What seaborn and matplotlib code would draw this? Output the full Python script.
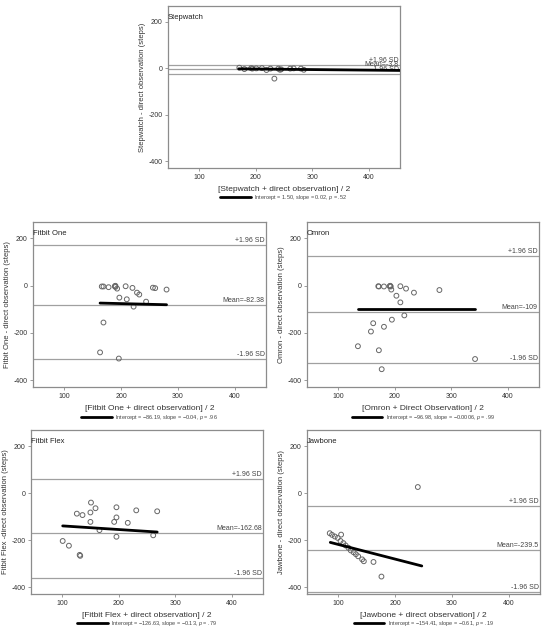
import matplotlib
matplotlib.use("Agg")
import matplotlib.pyplot as plt
import numpy as np
import pandas as pd
import seaborn as sns

########################################
# Values

devices = ["Stepwatch", "Fitbit One", "Omron", "Fitbit Flex", "Jawbone"]

stepwatch_x = [171, 180, 192, 194, 201, 211, 219, 226, 240, 243, 245, 261, 267, 280, 285, 233]
stepwatch_y = [3, -3, 1, -1, 0, 1, -7, -1, -1, -6, -4, -1, 0, -1, -6, -44]

fitbit_one_x = [166, 169, 178, 189, 190, 190, 193, 197, 208, 210, 220, 228, 232, 222, 244,
                256, 260, 280, 169, 163, 196]
fitbit_one_y = [-4, -4, -7, -3, -1, -6, -13, -51, -3, -58, -10, -30, -38, -89, -68,
                -9, -11, -17, -156, -282, -308]

omron_x = [171, 172, 181, 191, 192, 193, 194, 210, 220, 234, 203, 210, 279, 195, 217,
           162, 181, 158, 135, 172, 177, 342]
omron_y = [-3, -4, -4, -3, -1, -4, -17, -3, -13, -30, -43, -71, -19, -144, -126,
           -159, -174, -194, -256, -273, -353, -310]

fitbit_flex_x = [151, 159, 126, 136, 150, 150, 166, 196, 196, 192, 216, 231, 268, 196, 261,
                 101, 112, 131, 132]
fitbit_flex_y = [-40, -64, -87, -93, -82, -122, -157, -60, -103, -122, -126, -73, -77, -185, -179,
                 -203, -223, -262, -266]

jawbone_x = [240, 85, 89, 105, 94, 99, 104, 109, 113, 118, 122, 127, 131, 135, 142, 145, 162, 176]
jawbone_y = [26, -170, -177, -176, -184, -190, -203, -212, -222, -232, -243, -251, -259, -268,
             -281, -289, -292, -354]

# limits of agreement: upper, mean, lower
upper_sd = [14, 171, 124, 59, -53]
mean_diff = [-4, -82, -110, -167, -240]
lower_sd = [-23, -308, -327, -359, -418]
mean_labels = ["Mean=-3.8", "Mean=-82.38", "Mean=-109", "Mean=-162.68", "Mean=-239.5"]

# fitted regression line end points (x0, x1, y0, y1)
fit_x = [[170, 460], [163, 280], [135, 342], [101, 268], [86, 247]]
fit_y = [[-2, -9], [-74, -81], [-99, -99], [-139, -165], [-209, -309]]

x_labels = ["[Stepwatch + direct observation] / 2",
            "[Fitbit One + direct observation] / 2",
            "[Omron + Direct Observation] / 2",
            "[Fitbit Flex + direct observation] / 2",
            "[Jawbone + direct observation] / 2"]
y_labels = ["Stepwatch - direct observation (steps)",
            "Fitbit One - direct observation (steps)",
            "Omron - direct observation (steps)",
            "Fitbit Flex -direct observation (steps)",
            "Jawbone - direct observation (steps)"]
legend_labels = ["Intercept = 1.50, slope = 0.02, $p$ = .52",
                 "Intercept = \u221286.19, slope = \u22120.04, $p$ = .96",
                 "Intercept = \u221296.98, slope = \u22120.0006, $p$ = .99",
                 "Intercept = \u2212126.63, slope = \u22120.13, $p$ = .79",
                 "Intercept = \u2212154.41, slope = \u22120.61, $p$ = .19"]

x_ticks = [100, 200, 300, 400]
y_ticks = [200, 0, -200, -400]

points = [(stepwatch_x, stepwatch_y), (fitbit_one_x, fitbit_one_y), (omron_x, omron_y),
          (fitbit_flex_x, fitbit_flex_y), (jawbone_x, jawbone_y)]

########################################
# Figure layout (panel rectangles in figure fractions)

sns.set_style("white")
plt.rcParams["font.family"] = ["Liberation Sans", "DejaVu Sans"]
plt.rcParams["axes.unicode_minus"] = False
plt.rcParams["mathtext.fontset"] = "custom"
plt.rcParams["mathtext.it"] = "Liberation Sans:italic"

W, H = 555, 627
panel_px = [(168, 6, 232, 162), (33, 222, 233, 165), (307, 222, 232, 165),
            (31, 430, 232, 164), (307, 430, 233, 164)]

fig = plt.figure(figsize=(W / 100, H / 100), dpi=100)
grey = "#8c8c8c"

for i, dev in enumerate(devices):
    x0, y0, w, h = panel_px[i]
    ax = fig.add_axes([x0 / W, 1 - (y0 + h) / H, w / W, h / H])
    xs, ys = points[i]
    df = pd.DataFrame({"x": xs, "y": ys})

    for v in (upper_sd[i], mean_diff[i], lower_sd[i]):
        ax.axhline(v, color="#a0a0a0", lw=0.9, zorder=1)

    sns.scatterplot(data=df, x="x", y="y", ax=ax, marker="o", s=12,
                    facecolor="none", edgecolor="#666666", linewidth=0.7, zorder=3)

    fit = pd.DataFrame({"x": fit_x[i], "y": fit_y[i]})
    sns.lineplot(data=fit, x="x", y="y", ax=ax, color="black", lw=2.0,
                 label=legend_labels[i], zorder=4)

    ax.set_xlim(45, 455)
    ax.set_ylim(-428, 268)
    ax.set_xticks(x_ticks)
    ax.set_yticks(y_ticks)
    ax.tick_params(axis="both", direction="out", length=2.5, width=0.6, color=grey,
                   labelsize=5, pad=1.5, labelcolor="#333333")
    ax.tick_params(axis="both", which="both", bottom=True, left=True)
    for sp in ax.spines.values():
        sp.set_color(grey)
        sp.set_linewidth(0.9)

    ax.set_xlabel(x_labels[i], fontsize=6, color="#333333", labelpad=4)
    ax.set_ylabel(y_labels[i], fontsize=5.5, color="#333333", labelpad=2)

    ax.text(0.0, 0.91, dev, transform=ax.transAxes, fontsize=5.5, color="#222222",
            ha="left", va="bottom")
    tr = ax.get_yaxis_transform()
    ax.text(0.995, upper_sd[i] + 4, "+1.96 SD", transform=tr, fontsize=5,
            color="#444444", ha="right", va="bottom")
    ax.text(0.995, mean_diff[i] + 4, mean_labels[i], transform=tr, fontsize=5,
            color="#444444", ha="right", va="bottom")
    ax.text(0.995, lower_sd[i] + 4, "-1.96 SD", transform=tr, fontsize=5,
            color="#444444", ha="right", va="bottom")

    ax.legend(loc="upper center", bbox_to_anchor=(0.5, -0.155), frameon=False,
              fontsize=4, handlelength=5.5, handletextpad=0.6, borderaxespad=0,
              borderpad=0, labelcolor="#444444")

fig.savefig("out.png", dpi=100)
